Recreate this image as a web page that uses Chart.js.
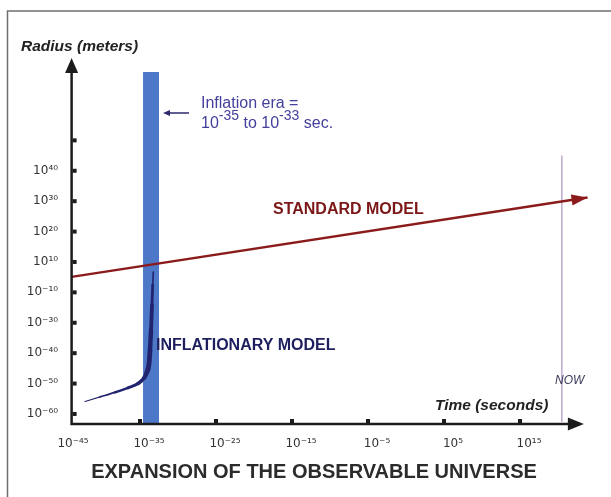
<!DOCTYPE html>
<html><head><meta charset="utf-8">
<script src="https://cdn.jsdelivr.net/npm/chart.js@4.4.0/dist/chart.umd.min.js"></script>
<style>html,body{margin:0;padding:0;background:#fff;}#wrap{width:611px;height:497px;}</style>
</head><body><div id="wrap"><canvas id="c" width="611" height="497"></canvas></div>
<script>
// x: log10(time / s); y: position on the radius axis in tick steps (0 = the 10^-60 tick)
const xTickValues = [-45, -35, -25, -15, -5, 5, 15];
const xTickLabels = ['10⁻⁴⁵', '10⁻³⁵', '10⁻²⁵', '10⁻¹⁵', '10⁻⁵', '10⁵', '10¹⁵'];
const yTickSteps = [0, 1, 2, 3, 4, 5, 6, 7, 8, 9];
const yTickLabels = ['10⁻⁶⁰', '10⁻⁵⁰', '10⁻⁴⁰', '10⁻³⁰', '10⁻¹⁰', '10¹⁰', '10²⁰', '10³⁰', '10⁴⁰', ''];
const standardTime = [-44, 23.88];
const standardRadius = [4.51, 7.12];
const inflationTime = [-42.24, -40.26, -38.29, -36.58, -35.26, -34.47, -34.08, -33.82, -33.68, -33.55, -33.42, -33.33, -33.25];
const inflationRadius = [0.41, 0.56, 0.71, 0.86, 1.00, 1.18, 1.38, 1.64, 2.11, 2.76, 3.59, 4.24, 4.67];
const inflationEra = [-34.6, -32.5];
const inflationEraTop = 11.25;
const nowTime = 20.5;
const nowTop = 8.5;
const yAxisTime = -44;
const xAxisEnd = 23.4;

const FONT = "'Liberation Sans', Arial, Helvetica, sans-serif";
const TICKFONT = "'DejaVu Sans', sans-serif";
const toPts = (xs, ys) => xs.map((x, i) => ({x: x, y: ys[i]}));
const inflWidths = [1.2, 1.8, 2.4, 3.0, 3.6, 4.2, 4.8, 4.8, 4.4, 3.8, 2.8, 1.6];

function drawSup(ctx, parts, x, y, baseFont, supFont, rise) {
  let cx = x;
  for (const p of parts) {
    ctx.font = p.sup ? supFont : baseFont;
    ctx.fillText(p.t, cx, p.sup ? y - rise : y);
    cx += ctx.measureText(p.t).width;
  }
}

const deco = {
  id: 'deco',
  beforeDraw(chart) {
    const ctx = chart.ctx;
    ctx.save();
    ctx.fillStyle = '#fff';
    ctx.fillRect(0, 0, chart.width, chart.height);
    ctx.strokeStyle = '#6f6f6f';
    ctx.lineWidth = 1.5;
    ctx.beginPath();
    ctx.moveTo(7.5, 497); ctx.lineTo(7.5, 11); ctx.lineTo(611, 11);
    ctx.stroke();
    ctx.restore();
  },
  beforeDatasetsDraw(chart) {
    const ctx = chart.ctx, xs = chart.scales.x, ys = chart.scales.y;
    ctx.save();
    const x0 = xs.getPixelForValue(inflationEra[0]), x1 = xs.getPixelForValue(inflationEra[1]);
    const yt = ys.getPixelForValue(inflationEraTop), yb = chart.chartArea.bottom;
    ctx.fillStyle = '#4d78c8';
    ctx.fillRect(x0, yt, x1 - x0, yb - yt);
    const nx = xs.getPixelForValue(nowTime);
    ctx.strokeStyle = '#bcaad0';
    ctx.lineWidth = 1.5;
    ctx.beginPath();
    ctx.moveTo(nx, ys.getPixelForValue(nowTop));
    ctx.lineTo(nx, yb - 2);
    ctx.stroke();
    ctx.restore();
  },
  afterDatasetsDraw(chart) {
    const ctx = chart.ctx, xs = chart.scales.x, ys = chart.scales.y, ca = chart.chartArea;
    ctx.save();
    // standard model arrowhead
    const p = chart.getDatasetMeta(0).data;
    const a = p[p.length - 2], b = p[p.length - 1];
    const ang = Math.atan2(b.y - a.y, b.x - a.x);
    ctx.fillStyle = '#8b1a1a';
    ctx.beginPath();
    ctx.moveTo(b.x, b.y);
    ctx.lineTo(b.x - 16 * Math.cos(ang) + 5.5 * Math.sin(ang), b.y - 16 * Math.sin(ang) - 5.5 * Math.cos(ang));
    ctx.lineTo(b.x - 16 * Math.cos(ang) - 5.5 * Math.sin(ang), b.y - 16 * Math.sin(ang) + 5.5 * Math.cos(ang));
    ctx.closePath();
    ctx.fill();

    // axes
    const ax = xs.getPixelForValue(yAxisTime), ay = ca.bottom, ex = xs.getPixelForValue(xAxisEnd);
    ctx.strokeStyle = '#1c1c1c';
    ctx.fillStyle = '#1c1c1c';
    ctx.lineWidth = 2.5;
    ctx.beginPath();
    ctx.moveTo(ax, ay + 1.25); ctx.lineTo(ax, ca.top + 12);
    ctx.moveTo(ax - 1.25, ay); ctx.lineTo(ex - 14, ay);
    ctx.stroke();
    ctx.beginPath();
    ctx.moveTo(ax, ca.top); ctx.lineTo(ax - 6.5, ca.top + 15); ctx.lineTo(ax + 6.5, ca.top + 15); ctx.closePath();
    ctx.fill();
    ctx.beginPath();
    ctx.moveTo(ex, ay); ctx.lineTo(ex - 16, ay - 6.5); ctx.lineTo(ex - 16, ay + 6.5); ctx.closePath();
    ctx.fill();
    // tick squares
    yTickSteps.forEach(v => { const y = ys.getPixelForValue(v); ctx.fillRect(ax + 1, y - 2, 4, 4); });
    xTickValues.forEach(v => { const x = xs.getPixelForValue(v); if (x > ax + 4) ctx.fillRect(x - 2, ay - 5, 4, 4); });

    // texts
    ctx.textBaseline = 'alphabetic';
    ctx.textAlign = 'left';
    ctx.fillStyle = '#222';
    ctx.font = "italic bold 15.5px " + FONT;
    ctx.fillText('Radius (meters)', 21, 51);
    ctx.fillText('Time (seconds)', 435, 410);

    ctx.fillStyle = '#7c1717';
    ctx.font = "bold 16px " + FONT;
    ctx.fillText('STANDARD MODEL', 273, 214);
    ctx.fillStyle = '#1d1f5f';
    ctx.fillText('INFLATIONARY MODEL', 156, 350);

    ctx.fillStyle = '#3a3a58';
    ctx.font = "italic 12px " + FONT;
    ctx.fillText('NOW', 555, 384);

    ctx.fillStyle = '#43409c';
    ctx.font = "16px " + FONT;
    ctx.fillText('Inflation era =', 201, 108);
    drawSup(ctx, [{t: '10'}, {t: '-35', sup: true}, {t: ' to 10'}, {t: '-33', sup: true}, {t: ' sec.'}],
      201, 128, "16px " + FONT, "14px " + FONT, 8);
    // small arrow pointing at the band
    ctx.strokeStyle = '#2c2a6c';
    ctx.fillStyle = '#2c2a6c';
    ctx.lineWidth = 1.5;
    ctx.beginPath(); ctx.moveTo(189, 113); ctx.lineTo(168, 113); ctx.stroke();
    ctx.beginPath(); ctx.moveTo(163, 113); ctx.lineTo(170, 110); ctx.lineTo(170, 116); ctx.closePath(); ctx.fill();
    ctx.restore();
  }
};

new Chart(document.getElementById('c'), {
  type: 'line',
  data: {
    datasets: [
      {label: 'Standard model', data: toPts(standardTime, standardRadius), borderColor: '#8b1a1a', borderWidth: 2.5, pointRadius: 0, tension: 0},
      {label: 'Inflationary model', data: toPts(inflationTime, inflationRadius), borderColor: '#21236f', borderWidth: 3, pointRadius: 0,
        cubicInterpolationMode: 'monotone', borderCapStyle: 'round', borderJoinStyle: 'round',
        segment: {borderWidth: c => inflWidths[c.p0DataIndex]}}
    ]
  },
  options: {
    responsive: false, animation: false, devicePixelRatio: 1,
    layout: {padding: {left: 24, top: 58, right: 7, bottom: 13}},
    plugins: {
      legend: {display: false}, tooltip: {enabled: false},
      title: {display: true, position: 'bottom', text: 'EXPANSION OF THE OBSERVABLE UNIVERSE',
        font: {family: FONT, size: 20, weight: 'bold'}, color: '#2b2b2b', padding: {top: 6, bottom: 0}}
    },
    scales: {
      x: {type: 'linear', min: -45, max: 26.05,
        afterBuildTicks: s => { s.ticks = xTickValues.map(v => ({value: v})); },
        afterFit: s => { s.height = 30; },
        grid: {display: false, drawTicks: false}, border: {display: false},
        ticks: {callback: v => xTickLabels[xTickValues.indexOf(v)] ?? '', labelOffset: 9, padding: 13,
          maxRotation: 0, autoSkip: false, color: '#333', font: {family: TICKFONT, size: 12}}},
      y: {type: 'linear', min: -0.33, max: 11.71,
        afterBuildTicks: s => { s.ticks = yTickSteps.map(v => ({value: v})); },
        afterFit: s => { s.width = 40; },
        grid: {display: false, drawTicks: false}, border: {display: false},
        ticks: {callback: v => yTickLabels[yTickSteps.indexOf(v)] ?? '', padding: 6, autoSkip: false,
          color: '#333', font: {family: TICKFONT, size: 12}}}
    }
  },
  plugins: [deco]
});
</script></body></html>
